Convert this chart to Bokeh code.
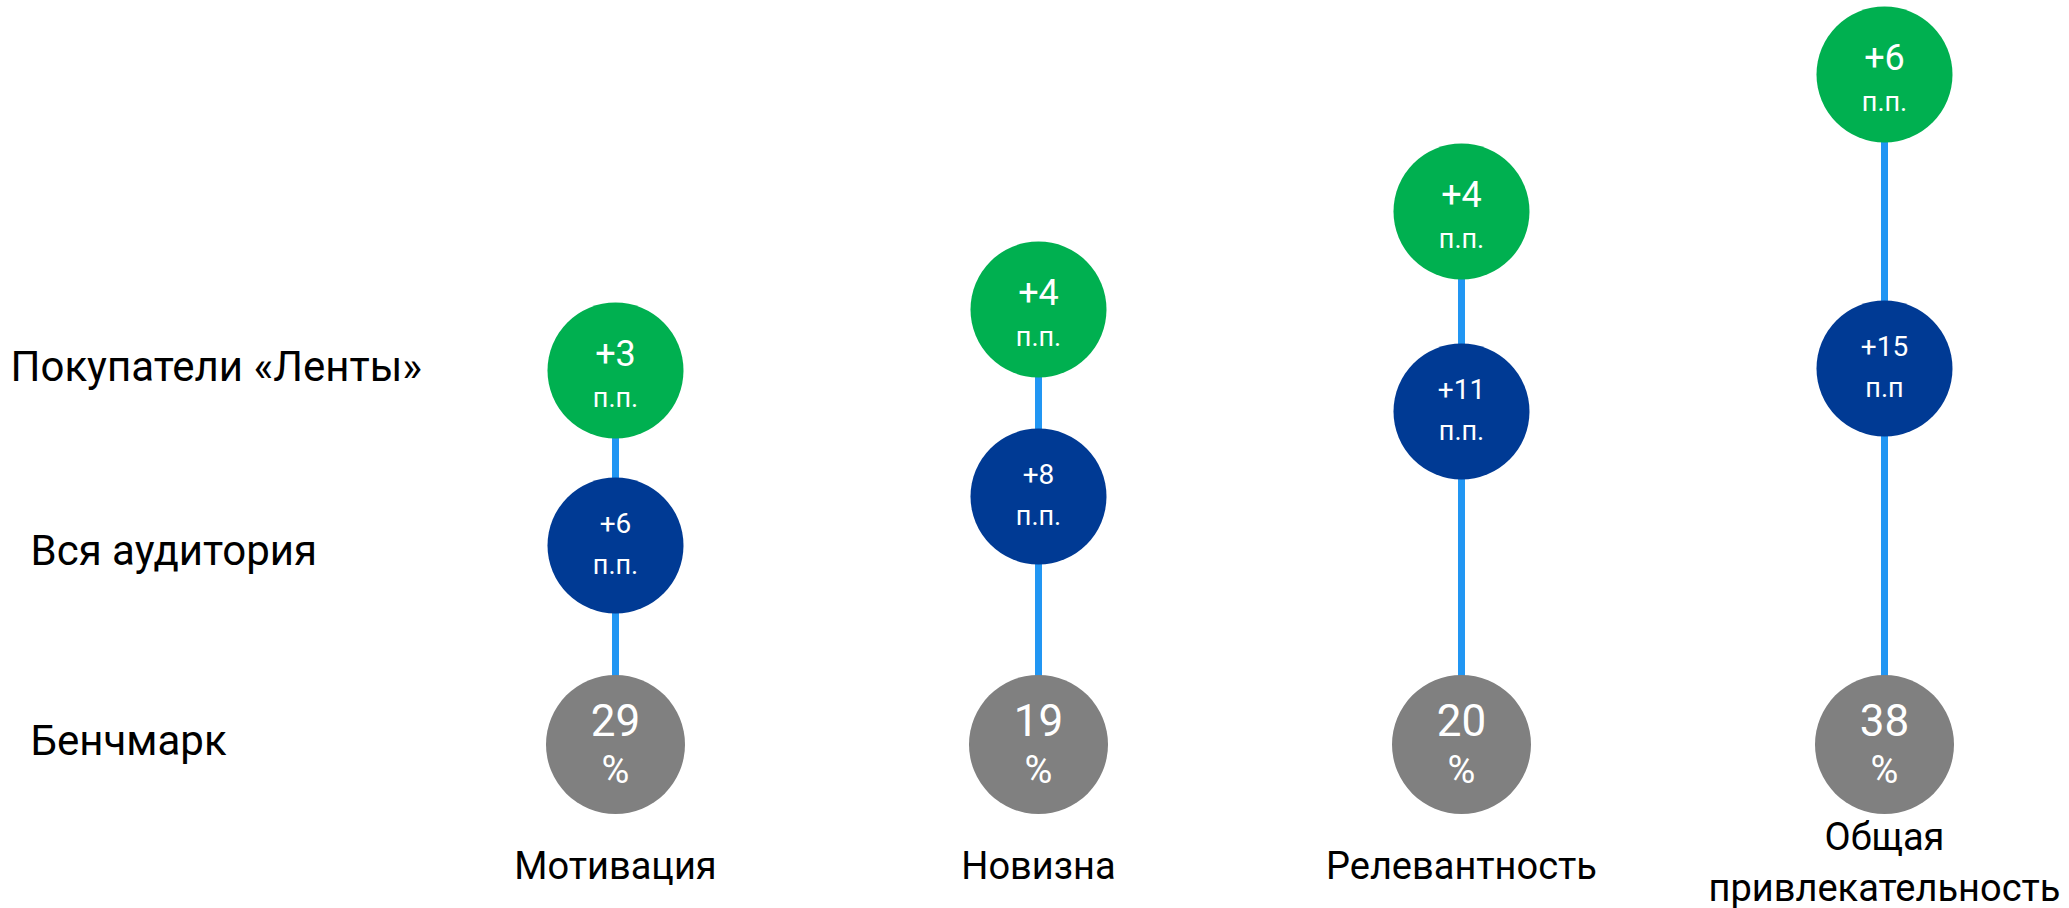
from bokeh.plotting import figure
from bokeh.models import Range1d, ColumnDataSource
from bokeh.core.properties import value
from bokeh.embed import file_html
from bokeh.resources import INLINE

# ---- data ----
categories = ["Мотивация", "Новизна", "Релевантность", "Общая\nпривлекательность"]
benchmark = [29, 19, 20, 38]          # %
all_audience = [6, 8, 11, 15]         # п.п. over benchmark
lenta_buyers = [3, 4, 4, 6]           # п.п. over all audience
all_units = ["п.п.", "п.п.", "п.п.", "п.п"]
lenta_units = ["п.п.", "п.п.", "п.п.", "п.п."]
row_labels = ["Покупатели «Ленты»", "Вся аудитория", "Бенчмарк"]

# schematic vertical levels of the circles (arbitrary units)
bench_level = [0.0, 0.0, 0.0, 0.0]
all_level = [19.9, 24.8, 33.3, 37.6]
lenta_level = [37.4, 43.5, 53.3, 67.0]

# ---- layout ----
FONT = "Roboto"
W, H = 2069, 908
MARGIN = 0
COL0, COL_STEP = 615, 423      # screen px of first column and spacing
BASE_Y, UNIT = 744, 10          # screen px of level 0, px per level unit
DY = -15                        # text baseline correction

xs = (MARGIN - COL0) / COL_STEP
xe = (MARGIN + W - COL0) / COL_STEP
ye = (BASE_Y - MARGIN) / UNIT
ys = (BASE_Y - (MARGIN + H)) / UNIT

GREEN = "#00B050"
BLUE = "#003A94"
GREY = "#808080"
LINE = "#2196F3"

p = figure(width=W, height=H, x_range=Range1d(xs, xe), y_range=Range1d(ys, ye),
           output_backend="svg", toolbar_location=None, min_border=0,
           x_axis_location=None, y_axis_location=None)
p.grid.visible = False
p.outline_line_color = None
p.background_fill_color = "white"
p.border_fill_color = "white"

idx = list(range(len(categories)))

src = ColumnDataSource(dict(
    x=idx, b=bench_level, a=all_level, l=lenta_level,
    bt=[str(v) for v in benchmark],
    bu=["%"] * len(benchmark),
    at=["+" + str(v) for v in all_audience],
    lt=["+" + str(v) for v in lenta_buyers],
    au=all_units, lu=lenta_units,
))

# connector lines
p.segment(x0="x", y0="b", x1="x", y1="l", source=src, line_color=LINE, line_width=7)

# circles
p.scatter("x", "b", source=src, size=139, color=GREY, line_color=None)
p.scatter("x", "a", source=src, size=136, color=BLUE, line_color=None)
p.scatter("x", "l", source=src, size=136, color=GREEN, line_color=None)

def txt(y, field, size, yoff):
    p.text("x", y, text=field, source=src, text_align="center",
           text_baseline="alphabetic", y_offset=yoff + DY,
           text_font=value(FONT), text_font_size=size, text_color="white")

txt("l", "lt", "36px", -3)
txt("l", "lu", "27px", 42)
txt("a", "at", "28px", -8)
txt("a", "au", "27px", 34)
txt("b", "bt", "44px", -10)
txt("b", "bu", "38px", 40)

# row labels (aligned with the first column's circles)
row_y = [lenta_level[0], all_level[0], bench_level[0]]
row_xoff = [10, 30, 30]
row_yoff = [11 + DY, 20 + DY, 11 + DY]
p.text(x=[xs] * 3, y=row_y, text=row_labels, x_offset=row_xoff, y_offset=row_yoff,
       text_align="left", text_baseline="alphabetic", text_font=value(FONT),
       text_font_size="42px", text_color="black")

# category labels under the columns
cx, cy, ct, co = [], [], [], []
for i, c in enumerate(categories):
    lines = c.split("\n")
    n = len(lines)
    for k, ln in enumerate(lines):
        cx.append(i)
        cy.append(bench_level[i])
        ct.append(ln)
        co.append(136 - 29 * (n - 1) + 51 * k + DY)
p.text(x=cx, y=cy, text=ct, y_offset=co, text_align="center", text_baseline="alphabetic",
       text_font=value(FONT), text_font_size="38px", text_color="black")

open("out.html", "w").write(file_html(p, INLINE))
